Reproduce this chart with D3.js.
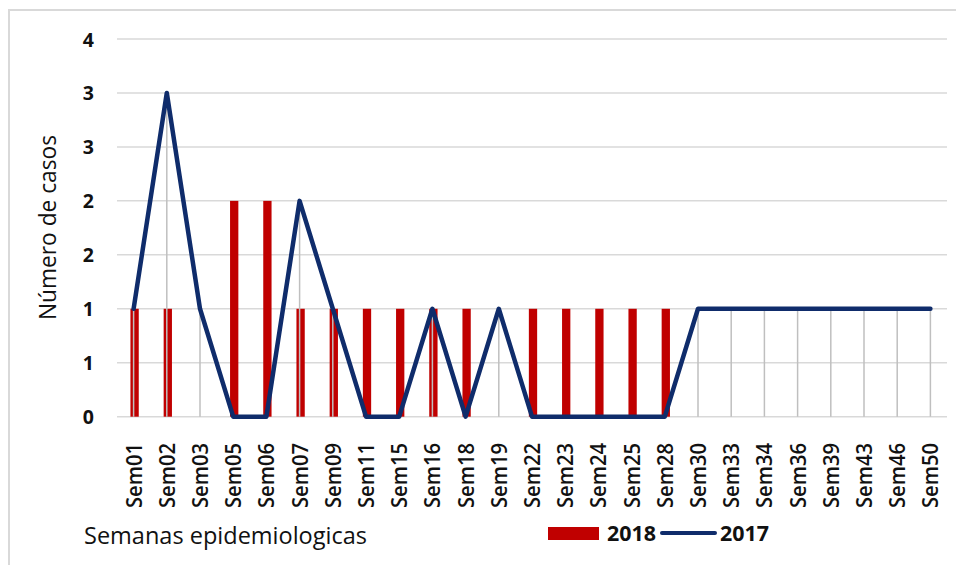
<!DOCTYPE html>
<html>
<head>
<meta charset="utf-8">
<script src="https://cdn.jsdelivr.net/npm/d3@7"></script>
<style>
  body { margin: 0; background: #fff; }
  svg text { font-family: "Open Sans", "Noto Sans", sans-serif; fill: #111; }
</style>
</head>
<body>
<div id="chart"></div>
<script>
var width = 956;
var height = 565;

// data
var weeks = ["Sem01", "Sem02", "Sem03", "Sem05", "Sem06", "Sem07", "Sem09", "Sem11", "Sem15",
    "Sem16", "Sem18", "Sem19", "Sem22", "Sem23", "Sem24", "Sem25", "Sem28", "Sem30", "Sem33",
    "Sem34", "Sem36", "Sem39", "Sem43", "Sem46", "Sem50"];
var cases2018 = [1, 1, 0, 2, 2, 1, 1, 1, 1, 1, 1, 0, 1, 1, 1, 1, 1, 0, 0, 0, 0, 0, 0, 0, 0];
var cases2017 = [1, 3, 1, 0, 0, 2, 1, 0, 0, 1, 0, 1, 0, 0, 0, 0, 0, 1, 1, 1, 1, 1, 1, 1, 1];
var yTickValues = [0, 0.5, 1, 1.5, 2, 2.5, 3, 3.5];
var yTickLabels = ["0", "1", "1", "2", "2", "3", "3", "4"];
var seriesNames = ["2018", "2017"];

var red = "#c00000";
var navy = "#0f2c6b";

var svg = d3.select("#chart")
    .append("svg")
    .attr("width", width)
    .attr("height", height);

// outer frame of the chart area
svg.append("rect")
    .attr("x", 9).attr("y", 10)
    .attr("width", 980).attr("height", 600)
    .attr("fill", "none")
    .attr("stroke", "#d9d9d9")
    .attr("stroke-width", 2);

var xScale = d3.scaleBand().domain(weeks).range([117, 947]).padding(0);
var yScale = d3.scaleLinear().domain([0, 3.5]).range([416.7, 39]);

// horizontal gridlines
svg.append("g")
    .selectAll("line")
    .data(yTickValues)
    .enter()
    .append("line")
    .attr("x1", 117).attr("x2", 947)
    .attr("y1", function(d) { return yScale(d); })
    .attr("y2", function(d) { return yScale(d); })
    .attr("stroke", "#d9d9d9")
    .attr("stroke-width", 1.5);

// y axis (labels only)
var yAxis = d3.axisLeft(yScale)
    .tickValues(yTickValues)
    .tickFormat(function(d, i) { return yTickLabels[i]; })
    .tickSize(0)
    .tickPadding(0);

var yAxisG = svg.append("g")
    .attr("transform", "translate(94, 0)")
    .call(yAxis);
yAxisG.select(".domain").remove();
yAxisG.selectAll("text")
    .style("font-size", "19.5px")
    .style("font-weight", "bold")
    .attr("dy", "0.36em");

// x axis (rotated labels)
var xAxis = d3.axisBottom(xScale).tickSize(0).tickPadding(0);
var xAxisG = svg.append("g")
    .attr("transform", "translate(0, 443)")
    .call(xAxis);
xAxisG.select(".domain").remove();
xAxisG.selectAll("text")
    .style("font-size", "21px")
    .style("font-weight", "600")
    .style("text-anchor", "end")
    .attr("textLength", 65)
    .attr("lengthAdjust", "spacingAndGlyphs")
    .attr("transform", "rotate(-90)")
    .attr("x", 0)
    .attr("y", 0)
    .attr("dx", 0)
    .attr("dy", "0.38em");

// 2018 bars
var barW = xScale.bandwidth() * 0.25;
svg.append("g")
    .selectAll("rect")
    .data(cases2018)
    .enter()
    .append("rect")
    .attr("x", function(d, i) { return xScale(weeks[i]) + xScale.bandwidth() / 2 - barW / 2 + 1; })
    .attr("y", function(d) { return yScale(d); })
    .attr("width", barW)
    .attr("height", function(d) { return yScale(0) - yScale(d); })
    .attr("fill", red);

// drop lines of the 2017 series
svg.append("g")
    .selectAll("line")
    .data(cases2017)
    .enter()
    .append("line")
    .attr("x1", function(d, i) { return xScale(weeks[i]) + xScale.bandwidth() / 2; })
    .attr("x2", function(d, i) { return xScale(weeks[i]) + xScale.bandwidth() / 2; })
    .attr("y1", function(d) { return yScale(d); })
    .attr("y2", yScale(0))
    .attr("stroke", "#bfbfbf")
    .attr("stroke-width", 1.5);

// 2017 line
var line = d3.line()
    .x(function(d, i) { return xScale(weeks[i]) + xScale.bandwidth() / 2; })
    .y(function(d) { return yScale(d); });

svg.append("path")
    .datum(cases2017)
    .attr("d", line)
    .attr("fill", "none")
    .attr("stroke", navy)
    .attr("stroke-width", 4.5)
    .attr("stroke-linejoin", "round")
    .attr("stroke-linecap", "round");

// axis titles
svg.append("text")
    .attr("transform", "translate(56, 227.5) rotate(-90)")
    .style("text-anchor", "middle")
    .style("font-size", "23px")
    .attr("textLength", 185)
    .attr("lengthAdjust", "spacingAndGlyphs")
    .text("Número de casos");

svg.append("text")
    .attr("x", 84)
    .attr("y", 544)
    .style("font-size", "23px")
    .attr("textLength", 283)
    .attr("lengthAdjust", "spacingAndGlyphs")
    .text("Semanas epidemiologicas");

// legend
var legendG = svg.append("g");
legendG.append("rect")
    .attr("x", 548).attr("y", 527)
    .attr("width", 51).attr("height", 13)
    .attr("fill", red);
legendG.append("text")
    .attr("x", 607).attr("y", 541)
    .style("font-size", "21px")
    .style("font-weight", "bold")
    .attr("textLength", 49)
    .attr("lengthAdjust", "spacingAndGlyphs")
    .text(seriesNames[0]);
legendG.append("line")
    .attr("x1", 662).attr("x2", 715)
    .attr("y1", 533).attr("y2", 533)
    .attr("stroke", navy)
    .attr("stroke-width", 4)
    .attr("stroke-linecap", "round");
legendG.append("text")
    .attr("x", 720).attr("y", 541)
    .style("font-size", "21px")
    .style("font-weight", "bold")
    .attr("textLength", 49)
    .attr("lengthAdjust", "spacingAndGlyphs")
    .text(seriesNames[1]);
</script>
</body>
</html>
